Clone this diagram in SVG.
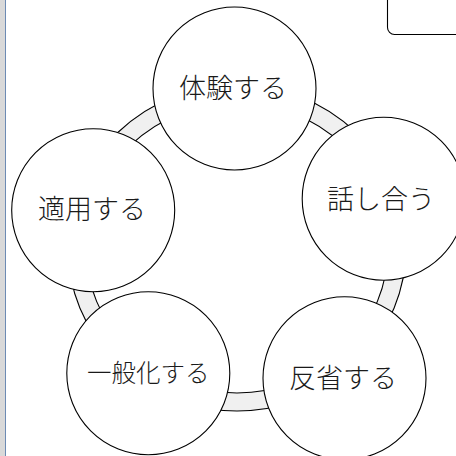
<svg xmlns="http://www.w3.org/2000/svg" width="456" height="456" viewBox="0 0 456 456">
<style>
.node{fill:#fff;stroke:#000;stroke-width:1.1}
.lbl{font-family:"Noto Sans CJK JP","Noto Sans",sans-serif;font-weight:300;fill:#1a1a1a;text-anchor:middle}
.ring{stroke:#000;stroke-width:1.1}
</style>
<rect x="0" y="0" width="456" height="456" fill="#fff"/>
<rect x="0" y="0" width="5.5" height="456" fill="#d9d9d9"/>
<line x1="5.5" y1="0" x2="5.5" y2="456" stroke="#6d8bb3" stroke-width="1"/>
<rect x="387.5" y="-20" width="100" height="54.5" rx="7" fill="#fff" stroke="#000" stroke-width="1.1"/>
<g id="connectors">
<path class="ring" fill="#f0f0f0" fill-rule="evenodd" d="M68 248a169 163 0 1 0 338 0a169 163 0 1 0 -338 0Z M86 248a151 145 0 1 0 302 0a151 145 0 1 0 -302 0Z"/>
</g>
<g id="n1"><circle class="node" cx="234.5" cy="88.5" r="81.5"/><text class="lbl" x="233" y="98" font-size="27">体験する</text></g>
<g id="n2"><circle class="node" cx="383.7" cy="198.7" r="81.5"/><text class="lbl" x="381" y="208.5" font-size="27">話し合う</text></g>
<g id="n3"><circle class="node" cx="344.5" cy="378.2" r="81.5"/><text class="lbl" x="343" y="388" font-size="27">反省する</text></g>
<g id="n4"><circle class="node" cx="148.3" cy="373.2" r="81.5"/><text class="lbl" x="148.3" y="382" font-size="24.5">一般化する</text></g>
<g id="n5"><circle class="node" cx="93.2" cy="210.3" r="81.5"/><text class="lbl" x="92" y="219" font-size="27">適用する</text></g>
</svg>
